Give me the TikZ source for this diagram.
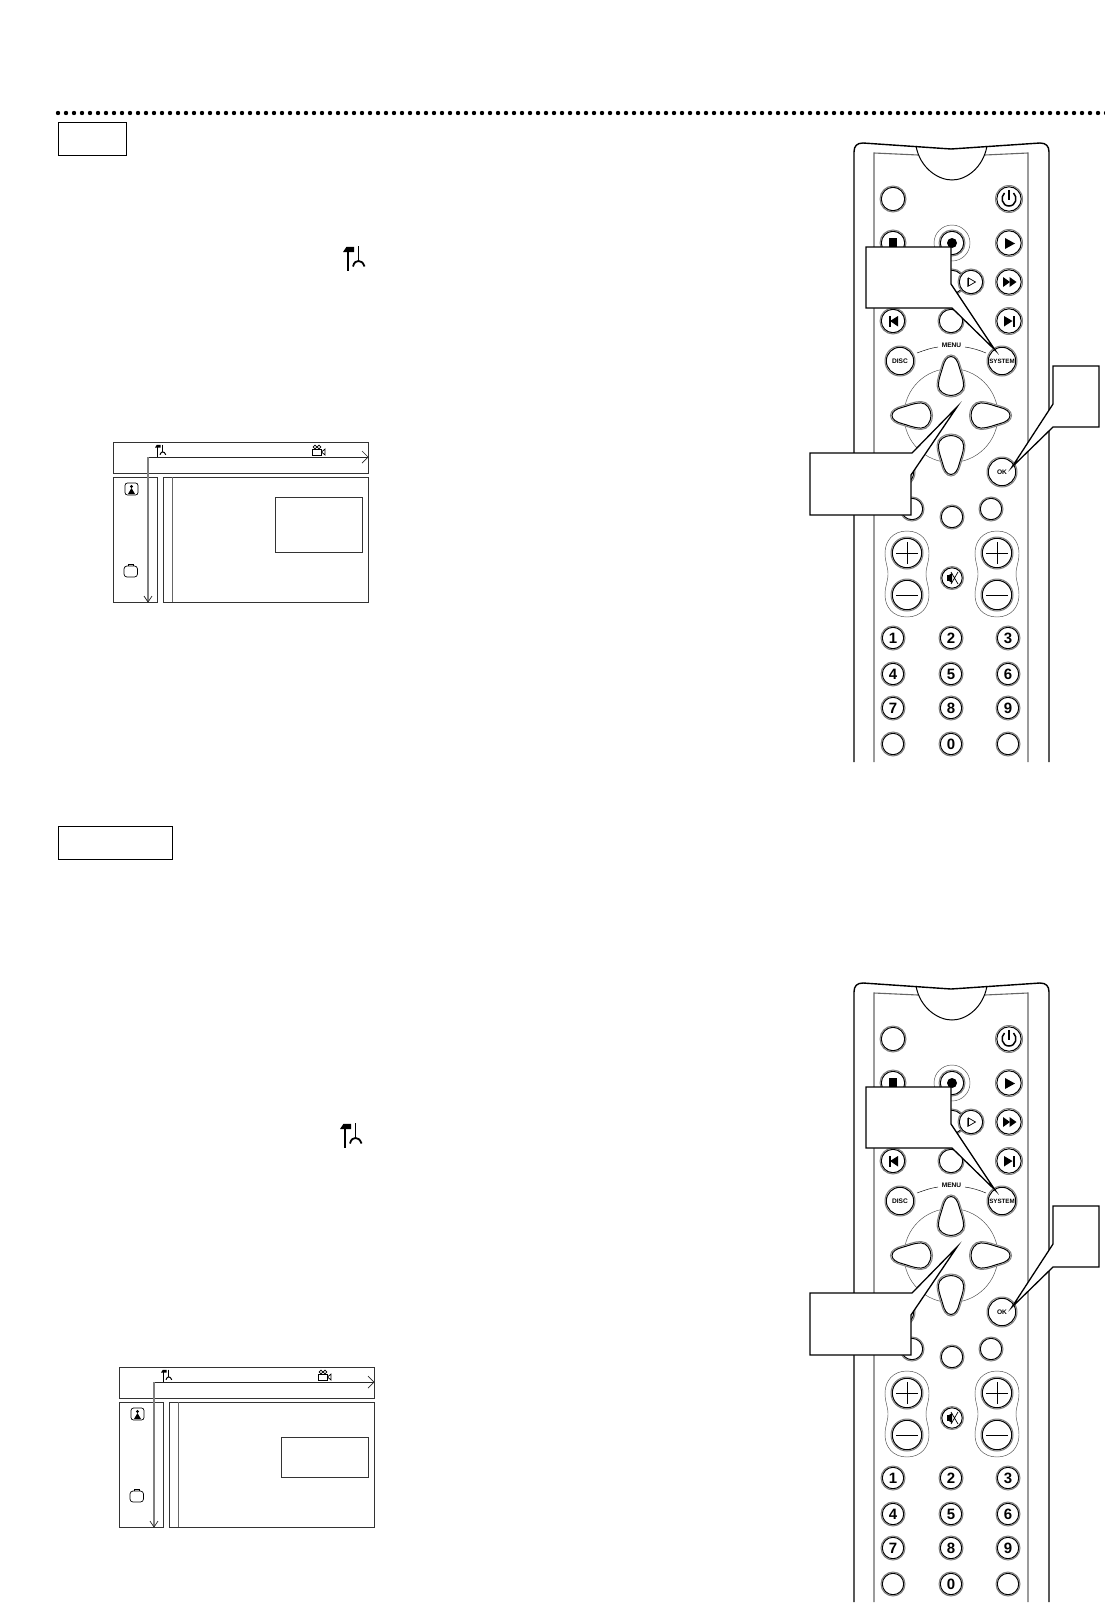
\documentclass[tikz,border=0pt]{standalone}
\usepackage{fontspec}
\setmainfont{Liberation Sans}
\tikzset{
  btnbase/.style={circle,draw=black!50,line width=1pt,fill=white,inner sep=0pt,text=black},
  ring/.style={draw=black,line width=1pt},
  thinline/.style={draw=black!70,line width=0.45pt},
  bodyline/.style={draw=black,line width=1.4pt,line join=round},
  innerline/.style={draw=black!60,line width=1.1pt},
  callout/.style={draw=black,fill=white,line width=1.3pt,line join=miter,miter limit=20},
  labelbox/.style={draw=black,fill=white,line width=1pt},
  scrbox/.style={draw=black!80,line width=1pt},
  scrarrow/.style={draw=black!85,line width=0.9pt},
  vscrarrow/.style={draw=black!50,line width=1.2pt},
  glyph/.style={fill=black,draw=none},
  iconline/.style={draw=black,line width=0.7pt},
  tiny/.style={font=\fontsize{6.6}{7}\selectfont\bfseries}
}
% name, x, y, radius, content
\newcommand\btn[5]{%
  \node[btnbase,minimum size=2*#4pt] (#1) at (#2,#3) {};
  \draw[ring] (#2,#3) circle[radius=#4pt-1.3pt];
  \node[inner sep=0pt] (#1t) at (#2,#3) {#5};
}
\newcommand\petal[1]{%
  \begin{scope}[shift={(951,415.5)},rotate=#1]
    \path[draw=black!50,fill=white,line width=1pt]
      (0,-60.5) .. controls (-5,-60.5) and (-8,-55) .. (-9.5,-49)
      .. controls (-11,-43) and (-14,-37) .. (-14,-30)
      .. controls (-14,-23) and (-7,-18.5) .. (0,-18.5)
      .. controls (7,-18.5) and (14,-23) .. (14,-30)
      .. controls (14,-37) and (11,-43) .. (9.5,-49)
      .. controls (8,-55) and (5,-60.5) .. (0,-60.5) -- cycle;
    \path[draw=black,line width=1pt]
      (0,-59) .. controls (-4,-59) and (-6.8,-54.5) .. (-8.2,-48.6)
      .. controls (-9.7,-42.6) and (-12.6,-37) .. (-12.6,-30)
      .. controls (-12.6,-24) and (-6,-20) .. (0,-20)
      .. controls (6,-20) and (12.6,-24) .. (12.6,-30)
      .. controls (12.6,-37) and (9.7,-42.6) .. (8.2,-48.6)
      .. controls (6.8,-54.5) and (4,-59) .. (0,-59) -- cycle;
  \end{scope}
}
\newcommand\capsule[1]{%
  \begin{scope}[shift={(#1,0)}]
    \draw[thinline] (0,531) .. controls (14,531) and (22,541) .. (22,553)
      .. controls (22,563) and (19,566) .. (19,574)
      .. controls (19,582) and (22,585) .. (22,595)
      .. controls (22,607) and (14,617) .. (0,617)
      .. controls (-14,617) and (-22,607) .. (-22,595)
      .. controls (-22,585) and (-19,582) .. (-19,574)
      .. controls (-19,566) and (-22,563) .. (-22,553)
      .. controls (-22,541) and (-14,531) .. (0,531) -- cycle;
  \end{scope}
}
\newcommand\digitfmt{\fontsize{15}{16}\selectfont\bfseries}
\newcommand\remote[2]{%
\begin{scope}[shift={(0,#2)}]
  % body
  \draw[bodyline] (854,762) -- (854,152) .. controls (854,146) and (857,143) .. (863,143)
    -- (951,149) -- (1040,143) .. controls (1046,143) and (1049,146) .. (1049,152) -- (1049,762);
  \draw[innerline] (874,762) -- (874,153) -- (918,155);
  \draw[innerline] (1028,762) -- (1028,153) -- (985,155);
  \draw[draw=black,line width=1pt] (916,146) .. controls (920,168) and (938,180) .. (952,180)
    .. controls (966,180) and (983,168) .. (987,146);
  % row 1
  \btn{#1a}{893}{199}{13}{}
  \btn{#1pw}{1009}{199}{13.5}{}
  \draw[black,line width=1.5pt] (1004.5,193) .. controls (1000,197) and (1002,206) .. (1009,206)
    .. controls (1016,206) and (1018,197) .. (1013.5,193);
  \draw[black,line width=1.5pt] (1009,190) -- (1009,200);
  % row 2
  \btn{#1st}{893}{243}{13}{}
  \fill[glyph] (889,238) rectangle (897,248);
  \draw[thinline] (952,243) circle[radius=18pt];
  \btn{#1rec}{952}{243}{13}{}
  \fill[glyph] (952,243) circle[radius=5pt];
  \btn{#1pl}{1009}{243}{13.5}{}
  \fill[glyph] (1005,238) -- (1015,243.5) -- (1005,249) -- cycle;
  % row 3
  \btn{#1s0}{893}{282}{13}{}
  \btn{#1s1}{952}{282}{13}{}
  \btn{#1sl}{971}{282}{13}{}
  \draw[black,line width=.7pt] (968.5,278) -- (975.5,282) -- (968.5,286) -- cycle;
  \draw[black!60,line width=1pt] (967.5,277.5) -- (967.5,286.5);
  \btn{#1ff}{1009}{282}{13.5}{}
  \fill[glyph] (1003,277) -- (1010,282) -- (1003,287) -- cycle;
  \fill[glyph] (1009.5,277) -- (1016.5,282) -- (1009.5,287) -- cycle;
  % row 4
  \btn{#1pv}{893}{321}{13}{}
  \fill[glyph] (888.5,316) rectangle (890.5,326.5);
  \fill[glyph] (898,316) -- (890,321) -- (898,326.5) -- cycle;
  \btn{#1b}{951}{321}{13}{}
  \btn{#1nx}{1009}{321}{13.5}{}
  \fill[glyph] (1012.5,316) rectangle (1014.5,326.5);
  \fill[glyph] (1004,316) -- (1012.5,321) -- (1004,326.5) -- cycle;
  % menu
  \draw[thinline,draw=black] (917,353) .. controls (925,350) and (931,348) .. (938,347);
  \draw[thinline,draw=black] (965,347) .. controls (972,348) and (979,350) .. (986,353);
  \node[tiny,inner sep=0pt] (#1menu) at (951.5,345.5) {MENU};
  \btn{#1disc}{900}{361}{15}{\fontsize{6.6}{7}\selectfont\bfseries DISC}
  \btn{#1sys}{1002}{361}{15}{\fontsize{6.2}{7}\selectfont\bfseries SYSTEM}
  \draw[thinline] (951,415.5) circle[radius=47pt];
  \petal{0}\petal{-90}\petal{90}\petal{180}
  \btn{#1h}{900}{472}{15}{}
  \btn{#1ok}{1002}{472}{15}{\fontsize{6.6}{7}\selectfont\bfseries OK}
  \btn{#1c1}{912}{509}{12}{}
  \btn{#1c2}{952}{517}{12}{}
  \btn{#1c3}{991}{509}{12}{}
  % volume
  \capsule{907}\capsule{997}
  \foreach \cx/\nm in {907/l,997/r}{
    \btn{#1vp\nm}{\cx}{553}{16}{}
    \draw[black,line width=.9pt] (\cx-11,553) -- (\cx+11,553) (\cx,542) -- (\cx,564);
    \btn{#1vm\nm}{\cx}{595}{16}{}
    \draw[black,line width=.9pt] (\cx-11,595) -- (\cx+11,595);
  }
  \btn{#1mu}{952}{578}{11.5}{}
  \fill[glyph] (947,575) rectangle (949,581);
  \fill[glyph] (949,575) -- (952,573) -- (952,583) -- (949,581) -- cycle;
  \draw[black,line width=.7pt] (951,572) -- (958,584) (958,572) -- (951,584);
  % digits
  \btn{#1n1}{893}{638}{12}{\digitfmt 1}
  \btn{#1n2}{951}{638}{12}{\digitfmt 2}
  \btn{#1n3}{1008}{638}{12}{\digitfmt 3}
  \btn{#1n4}{893}{674}{12}{\digitfmt 4}
  \btn{#1n5}{951}{674}{12}{\digitfmt 5}
  \btn{#1n6}{1008}{674}{12}{\digitfmt 6}
  \btn{#1n7}{893}{708}{12}{\digitfmt 7}
  \btn{#1n8}{951}{708}{12}{\digitfmt 8}
  \btn{#1n9}{1008}{708}{12}{\digitfmt 9}
  \btn{#1x1}{893}{744}{12}{}
  \btn{#1n0}{951}{744}{12}{\digitfmt 0}
  \btn{#1x2}{1008}{744}{12}{}
  % callouts
  \path[callout] (866,247) -- (951,247) -- (951,284) -- (995,350) -- (952,308) -- (866,308) -- cycle;
  \path[callout] (1053,366) -- (1099,366) -- (1099,427) -- (1053,427) -- (1012,467) -- (1053,404) -- cycle;
  \path[callout] (810,453) -- (912,453) -- (957,407) -- (911,475) -- (911,515) -- (810,515) -- cycle;
\end{scope}}
\newcommand\toolicon[4]{% x y scale stroke
  \begin{scope}[shift={(#1,#2)},scale=#3]
    \fill[black] (0,6) -- (3.5,0.8) -- (11,0.8) -- (11,6) -- cycle;
    \draw[black,line width=#4pt] (5.3,2) -- (5.3,25);
    \draw[black,line width=#4pt] (15.5,0) -- (15.5,15);
    \draw[black,line width=#4pt] (10,20.5) .. controls (11,16) and (13.5,15) .. (15.5,15) .. controls (17.5,15) and (20,16) .. (21.5,20.5);
  \end{scope}}
\newcommand\screen[5]{% prefix dx dy, small box top, bottom
\begin{scope}[shift={(#2,#3)}]
  \draw[scrbox] (113,442) rectangle (368,473);
  \draw[scrbox] (113,477) rectangle (157,602);
  \draw[scrbox] (163,477) rectangle (368,602);
  \draw[scrbox,draw=black!60] (172,477) -- (172,602);
  \draw[scrbox] (275,#4) rectangle (362,#5);
  \coordinate (#1o) at (148,457);
  \coordinate (#1h) at (368,457);
  \coordinate (#1v) at (148,602);
  \draw[scrarrow] (#1o) -- (#1h);
  \draw[scrarrow,line width=.7pt] (362,451) -- (#1h) -- (362,463);
  \draw[vscrarrow] (#1o) -- (#1v);
  \draw[scrarrow,line width=.7pt] (144,596) -- (#1v) -- (152,596);
  \toolicon{155}{444.5}{0.5}{1}
  \draw[iconline] (312,449) rectangle (321,455);
  \draw[iconline] (315,447) circle[radius=1.9pt] (319,447) circle[radius=1.9pt];
  \draw[iconline] (321.5,452) -- (325,449) -- (325,455) -- cycle;
  \draw[iconline,rounded corners=2.5pt] (125,483) rectangle (138,495);
  \fill[black] (131.5,486.5) circle[radius=1.6pt];
  \fill[black] (131.5,488) -- (135,494) -- (128,494) -- cycle;
  \draw[iconline,rounded corners=3pt] (124,566) rectangle (137.5,577);
  \draw[iconline] (128.5,566) -- (128.5,564) -- (133,564) -- (133,566);
\end{scope}}
\begin{document}
\begin{tikzpicture}[x=1pt,y=-1pt]
  \useasboundingbox (0,0) rectangle (1105,1619);
  \fill[white] (0,0) rectangle (1105,1619);
  \foreach \i in {0,...,131}{\fill[black] (58+8*\i,113) circle[radius=2.2pt];}
  \node[labelbox,anchor=north west,minimum width=68pt,minimum height=33pt,inner sep=0pt] (head1) at (58,122) {};
  \node[labelbox,anchor=north west,minimum width=114pt,minimum height=33pt,inner sep=0pt] (head2) at (58,826) {};
  \toolicon{343}{246}{1}{1.8}
  \toolicon{340}{1123}{1}{1.8}
  \screen{sa}{0}{0}{497}{552}
  \screen{sb}{6}{925}{512}{552}
  \remote{ra}{0}
  \remote{rb}{840}
\end{tikzpicture}
\end{document}
